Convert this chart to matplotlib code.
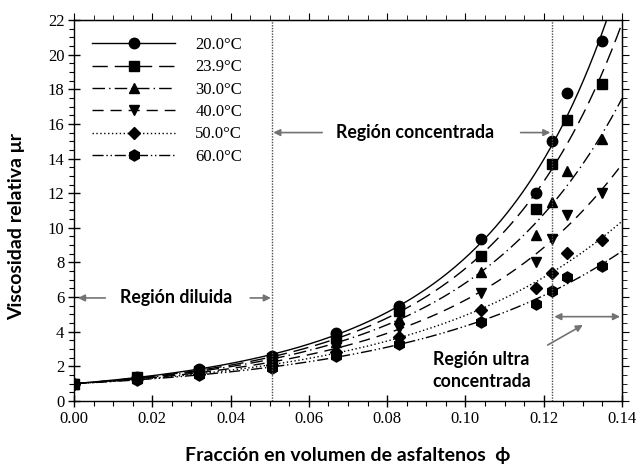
import numpy as np
import matplotlib
matplotlib.use("Agg")
import matplotlib.pyplot as plt
from matplotlib.ticker import MultipleLocator, FormatStrFormatter

# fracción volumétrica de asfaltenos (eje x)
phi = [0.0, 0.016, 0.032, 0.0505, 0.067, 0.083, 0.104, 0.118, 0.122, 0.126, 0.135]

# viscosidad relativa para cada temperatura
mu_20 = [1.0, 1.40, 1.82, 2.62, 3.90, 5.50, 9.35, 12.0, 15.0, 17.8, 20.8]
mu_239 = [1.0, 1.36, 1.75, 2.50, 3.65, 5.20, 8.37, 11.1, 13.7, 16.2, 18.3]
mu_30 = [1.0, 1.32, 1.70, 2.38, 3.40, 4.75, 7.45, 9.6, 11.5, 13.3, 15.1]
mu_40 = [1.0, 1.28, 1.62, 2.22, 3.10, 4.20, 6.25, 8.0, 9.35, 10.75, 12.0]
mu_50 = [1.0, 1.25, 1.56, 2.05, 2.85, 3.70, 5.25, 6.5, 7.4, 8.55, 9.3]
mu_60 = [1.0, 1.22, 1.50, 1.92, 2.60, 3.30, 4.55, 5.6, 6.35, 7.15, 7.8]

temps = ["20.0°C", "23.9°C", "30.0°C", "40.0°C", "50.0°C", "60.0°C"]
series = [mu_20, mu_239, mu_30, mu_40, mu_50, mu_60]

# limites de las regiones
phi_diluida = 0.0505
phi_concentrada = 0.1222

estilos = [
    dict(ls="-", marker="o", ms=7.5),
    dict(ls=(0, (11, 5)), marker="s", ms=6.5),
    dict(ls=(0, (9, 3, 1, 3)), marker="^", ms=7),
    dict(ls=(0, (8, 5)), marker="v", ms=7),
    dict(ls=(0, (1, 1.8)), marker="D", ms=6),
    dict(ls=(0, (8, 2, 1, 2, 1, 2)), marker="h", ms=8),
]

serif = "Liberation Serif"
sans = ["Lato", "DejaVu Sans"]

fig = plt.figure(figsize=(6.39, 4.70), dpi=100)
ax = fig.add_axes([74 / 639, 1 - 401 / 470, 548 / 639, 381 / 470])

x = np.array(phi)
xs = np.linspace(0, 0.14, 300)
for mu, t, st in zip(series, temps, estilos):
    y = np.array(mu)
    # ajuste ln(mu) = a*phi + b*phi^2 + c*phi^3 (pasa por mu=1 en phi=0)
    A = np.column_stack([x, x ** 2, x ** 3])
    coef, *_ = np.linalg.lstsq(A, np.log(y), rcond=None)
    ys = np.exp(np.column_stack([xs, xs ** 2, xs ** 3]) @ coef)
    ax.plot(xs, ys, color="black", lw=1.0, ls=st["ls"])
    ax.plot(x, y, ls="none", marker=st["marker"], ms=st["ms"], color="black")
    # entrada de la leyenda: linea + marcador
    ax.plot([], [], color="black", lw=1.0, ls=st["ls"], marker=st["marker"],
            ms=st["ms"], label=t)

ax.axvline(phi_diluida, color="0.3", ls=(0, (1, 1)), lw=1.0)
ax.axvline(phi_concentrada, color="0.3", ls=(0, (1, 1)), lw=1.0)

ax.set_xlim(0, 0.14)
ax.set_ylim(0, 22)
ax.xaxis.set_major_locator(MultipleLocator(0.02))
ax.xaxis.set_minor_locator(MultipleLocator(0.005))
ax.xaxis.set_major_formatter(FormatStrFormatter("%.2f"))
ax.yaxis.set_major_locator(MultipleLocator(2))
ax.yaxis.set_minor_locator(MultipleLocator(0.5))
ax.tick_params(which="major", direction="inout", length=8, width=1.0,
               labelsize=12, pad=3)
ax.tick_params(which="minor", direction="out", length=3.5, width=0.8)
for lab in ax.get_xticklabels() + ax.get_yticklabels():
    lab.set_fontfamily(serif)
for s in ax.spines.values():
    s.set_linewidth(1.0)

# ticks de los ejes superior y derecho, hacia afuera
top = ax.secondary_xaxis("top")
top.xaxis.set_major_locator(MultipleLocator(0.02))
top.xaxis.set_minor_locator(MultipleLocator(0.005))
top.tick_params(which="both", direction="out", labeltop=False)
top.tick_params(which="major", length=5)
top.tick_params(which="minor", length=3.5)
right = ax.secondary_yaxis("right")
right.yaxis.set_major_locator(MultipleLocator(2))
right.yaxis.set_minor_locator(MultipleLocator(0.5))
right.tick_params(which="both", direction="out", labelright=False)
right.tick_params(which="major", length=5)
right.tick_params(which="minor", length=3.5)

leg = ax.legend(loc="upper left", bbox_to_anchor=(0.033, 0.955), frameon=False,
                handlelength=5.0, handletextpad=1.2, labelspacing=0.38,
                borderpad=0, borderaxespad=0, numpoints=1,
                prop={"family": serif, "size": 12})

# flechas de las regiones
gris = dict(arrowstyle="-|>", color="0.45", lw=1.2, mutation_scale=10,
            shrinkA=0, shrinkB=0)
ax.annotate("", xy=(0.0010, 5.95), xytext=(0.0080, 5.95), arrowprops=gris)
ax.annotate("", xy=(0.0503, 5.95), xytext=(0.0450, 5.95), arrowprops=gris)
ax.text(0.0260, 5.95, "Región diluida", ha="center", va="center",
        family=sans, weight="bold", fontsize=12.8)

ax.annotate("", xy=(0.0509, 15.5), xytext=(0.0634, 15.5), arrowprops=gris)
ax.annotate("", xy=(0.1217, 15.5), xytext=(0.1141, 15.5), arrowprops=gris)
ax.text(0.0872, 15.5, "Región concentrada", ha="center", va="center",
        family=sans, weight="bold", fontsize=12.8)

ax.annotate("", xy=(0.1227, 4.87), xytext=(0.1395, 4.87),
            arrowprops=dict(gris, arrowstyle="<|-|>"))
ax.annotate("", xy=(0.1300, 4.39), xytext=(0.1210, 3.23), arrowprops=gris)
ax.text(0.1041, 1.75, "Región ultra\nconcentrada", ha="center", va="center",
        family=sans, weight="bold", fontsize=12.8, linespacing=1.4)

fig.text(348 / 639, 1 - 455 / 470, "Fracción en volumen de asfaltenos  ϕ",
         ha="center", va="center", family=sans, weight="bold", fontsize=14)
fig.text(17 / 639, 1 - 226 / 470, "Viscosidad relativa μr", rotation=90,
         ha="center", va="center", family=sans, weight="bold", fontsize=14)

fig.savefig("out.png", dpi=100)
